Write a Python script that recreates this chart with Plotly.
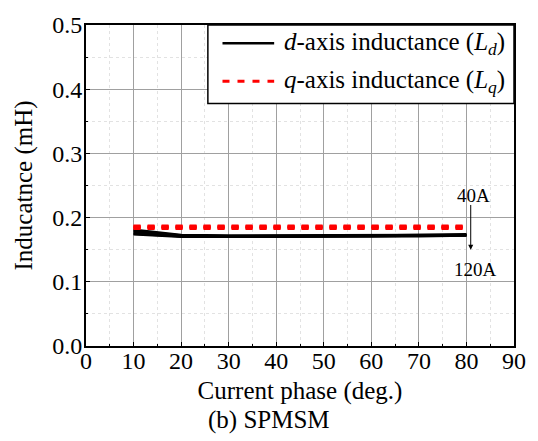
import plotly.graph_objects as go

phase = [10, 20, 30, 40, 50, 60, 70, 80]
currents = ["40A", "60A", "80A", "100A", "120A"]
Ld = [
    [0.181, 0.173, 0.172, 0.172, 0.172, 0.173, 0.173, 0.174],
    [0.179, 0.172, 0.171, 0.171, 0.172, 0.172, 0.173, 0.173],
    [0.177, 0.171, 0.170, 0.171, 0.171, 0.172, 0.172, 0.173],
    [0.175, 0.171, 0.170, 0.170, 0.171, 0.171, 0.172, 0.172],
    [0.174, 0.170, 0.170, 0.170, 0.170, 0.171, 0.171, 0.172],
]
Lq = [
    [0.187, 0.187, 0.187, 0.187, 0.187, 0.187, 0.187, 0.187],
    [0.186, 0.186, 0.186, 0.186, 0.186, 0.186, 0.186, 0.186],
    [0.185, 0.185, 0.185, 0.185, 0.185, 0.185, 0.185, 0.185],
    [0.184, 0.184, 0.184, 0.184, 0.184, 0.184, 0.184, 0.184],
    [0.183, 0.183, 0.183, 0.183, 0.183, 0.183, 0.183, 0.183],
]
legend_labels = ["<i>d</i>-axis inductance (<i>L</i><sub><i>d</i></sub>)",
                 "<i>q</i>-axis inductance (<i>L</i><sub><i>q</i></sub>)"]

FONT = "Liberation Serif"

fig = go.Figure()
for c, ys in zip(currents, Ld):
    fig.add_trace(go.Scatter(x=phase, y=ys, mode="lines", name=c,
                             line=dict(color="black", width=2.5), showlegend=False))
for c, ys in zip(currents, Lq):
    fig.add_trace(go.Scatter(x=phase, y=ys, mode="lines", name=c,
                             line=dict(color="red", width=3, dash="7px,7px"), showlegend=False))

axis_common = dict(
    showline=True, linecolor="black", linewidth=2, mirror=True,
    showgrid=True, gridcolor="#a0a0a0", gridwidth=1,
    ticks="inside", ticklen=4, tickcolor="black",
    tickfont=dict(family=FONT, size=24, color="black"),
    zeroline=False,
    minor=dict(showgrid=True, gridcolor="#e2e2e2", griddash="dot", ticks="inside", ticklen=2),
)
fig.update_xaxes(range=[0, 90], dtick=10, minor_dtick=5, ticklabelstandoff=-8,
                 title=dict(text="Current phase (deg.)", font=dict(family=FONT, size=25, color="black"), standoff=9),
                 **axis_common)
fig.update_yaxes(range=[0, 0.5], dtick=0.1, minor_dtick=0.05, tickformat=".1f", ticklabelstandoff=-3,
                 title=dict(text="Inducatnce (mH)", font=dict(family=FONT, size=25, color="black"), standoff=12),
                 **axis_common)

# legend box (manual)
lx0 = (211 - 86) / 439
ly0 = (346 - 98.7) / 327.5
fig.add_shape(type="rect", xref="paper", yref="paper", x0=lx0, x1=1, y0=ly0, y1=1,
              line=dict(color="black", width=1.5), fillcolor="white", layer="above")
rows = [(37, "black", "solid", 2.5), (76, "red", "7px,8px", 3)]
for (ypix, col, dash, w), lab in zip(rows, legend_labels):
    yp = (346 - ypix) / 327.5
    fig.add_shape(type="line", xref="paper", yref="paper",
                  x0=(226 - 86) / 439, x1=(279 - 86) / 439, y0=yp, y1=yp,
                  line=dict(color=col, width=w, dash=dash), layer="above")
    fig.add_annotation(xref="paper", yref="paper", x=(287 - 86) / 439, y=yp,
                       xanchor="left", yanchor="middle", text=lab, showarrow=False,
                       font=dict(family=FONT, size=25, color="black"))

# current arrow
fig.add_annotation(x=80.9, y=0.150, ax=80.9, ay=0.222, xref="x", yref="y", axref="x", ayref="y",
                   text="", showarrow=True, arrowhead=2, arrowsize=1, arrowwidth=1, arrowcolor="black")
fig.add_annotation(x=81.5, y=0.234, text=currents[0], showarrow=False, xref="x", yref="y",
                   font=dict(family=FONT, size=19, color="black"))
fig.add_annotation(x=81.8, y=0.119, text=currents[-1], showarrow=False, xref="x", yref="y",
                   font=dict(family=FONT, size=19, color="black"))

fig.add_annotation(xref="paper", yref="paper", x=(274 - 86) / 439, y=(346 - 421) / 327.5, yanchor="middle",
                   text="(b) SPMSM", showarrow=False,
                   font=dict(family=FONT, size=25, color="black"))

fig.update_layout(width=538, height=441, margin=dict(l=86, r=13, t=18, b=95),
                  paper_bgcolor="white", plot_bgcolor="white", showlegend=False)
fig.write_html("out.html")
